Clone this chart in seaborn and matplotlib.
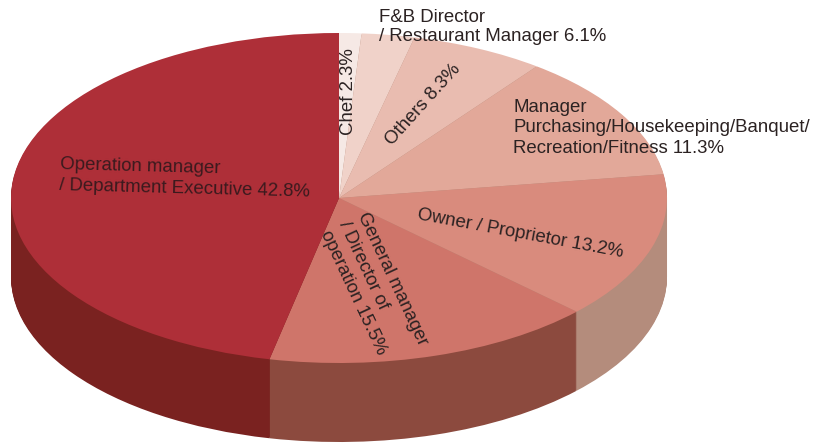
import matplotlib
matplotlib.use('Agg')
import matplotlib.pyplot as plt
import seaborn as sns

roles = ['Chef', 'F&B Director', 'Others', 'Manager', 'Owner', 'General manager', 'Operation manager']
# labelled percentages, these are what the chart prints
labelled_pct = [2.3, 6.1, 8.3, 11.3, 13.2, 15.5, 42.8]
# wedge sizes as drawn in the picture, the perspective squeezes the top ones and stretches the front
drawn_share = [1.1, 2.6, 6.6, 12.4, 14.4, 16.3, 46.6]

top_colors = ['#f6e9e5', '#f0d2c9', '#e9bcb0', '#e2a899', '#d98b7d', '#cf756a', '#ae2f38']
wall_colors = ['#b48c7c', '#b48c7c', '#b48c7c', '#b48c7c', '#b48c7c', '#8c4a3e', '#7a2220']

W, H = 813, 444
cx, cy, rx, ry, depth = 339, 198, 328, 165, 79

sns.set_theme(style='white')
plt.rcParams['font.family'] = ['Liberation Sans', 'DejaVu Sans']

fig = plt.figure(figsize=(W / 100, H / 100), dpi=100)
ax = fig.add_axes([0, 0, 1, 1])

# the side wall is the same pie stacked downwards in the dark colours
for k in range(depth, 0, -1):
    ax.pie(drawn_share, colors=wall_colors, startangle=90, counterclock=False,
           center=(0, -k / ry), wedgeprops={'linewidth': 0})
ax.pie(drawn_share, colors=top_colors, startangle=90, counterclock=False,
       wedgeprops={'linewidth': 0})

# squash the circle into the ellipse of the picture
ax.set_aspect('auto')
ax.set_xlim(-cx / rx, (W - cx) / rx)
ax.set_ylim((cy - H) / ry, cy / ry)
ax.axis('off')


def label(x, y, s, rot=0, ha='center', color='#2b2222', spacing=1.25):
    fig.text(x / W, 1 - y / H, s, rotation=rot, rotation_mode='anchor', ha=ha, va='center',
             fontsize=13.4, color=color, linespacing=spacing, multialignment='left')


pct = dict(zip(roles, labelled_pct))
label(348, 92, f"Chef {pct['Chef']}%", rot=90)
label(379, 27, f"F&B Director\n/ Restaurant Manager {pct['F&B Director']}%", ha='left', spacing=1.17)
label(423, 105, f"Others {pct['Others']}%", rot=48)
label(513, 128, f"Manager\nPurchasing/Housekeeping/Banquet/\nRecreation/Fitness {pct['Manager']}%", ha='left')
label(520, 234, f"Owner / Proprietor {pct['Owner']}%", rot=-10.5)
label(374, 288, f"General manager\n/ Director of\noperation {pct['General manager']}%", rot=-65)
label(60, 175, f"Operation manager\n/ Department Executive {pct['Operation manager']}%", rot=-1.5, ha='left',
      color='#3a1a1e', spacing=1.33)

fig.savefig('out.png', dpi=100, facecolor='white')
